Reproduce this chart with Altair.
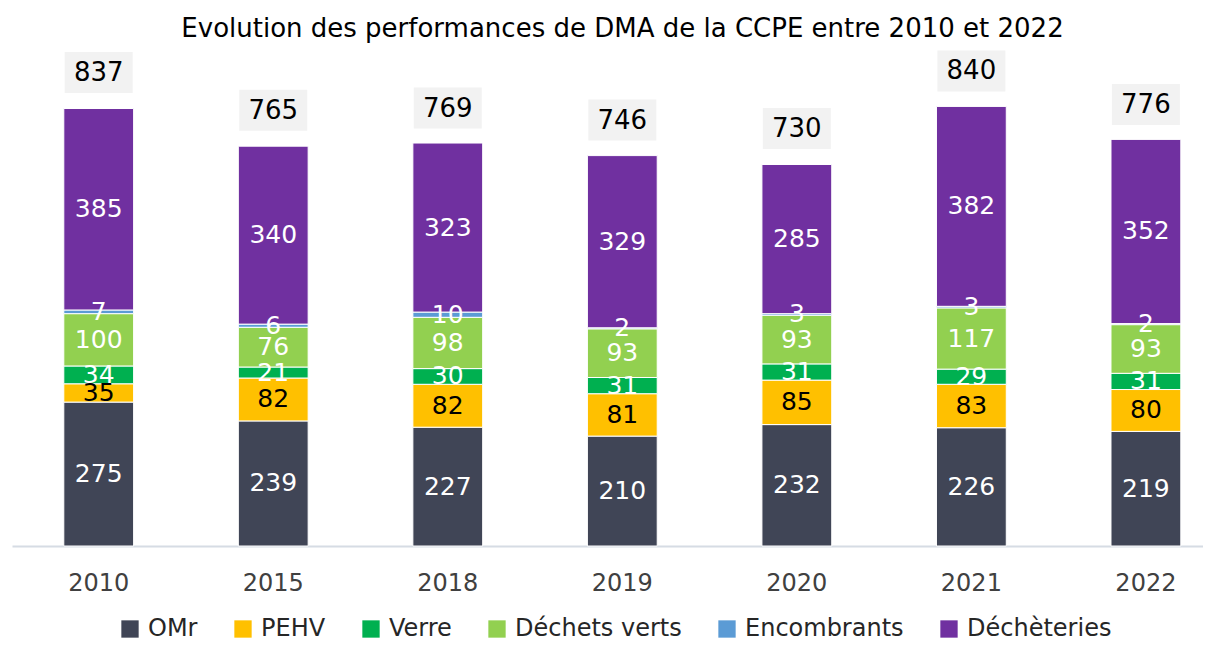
import altair as alt
import pandas as pd

years = ["2010", "2015", "2018", "2019", "2020", "2021", "2022"]
categories = ["OMr", "PEHV", "Verre", "Déchets verts", "Encombrants", "Déchèteries"]
omr = [275, 239, 227, 210, 232, 226, 219]
pehv = [35, 82, 82, 81, 85, 83, 80]
verre = [34, 21, 30, 31, 31, 29, 31]
dechets_verts = [100, 76, 98, 93, 93, 117, 93]
encombrants = [7, 6, 10, 2, 3, 3, 2]
decheteries = [385, 340, 323, 329, 285, 382, 352]
totals = [837, 765, 769, 746, 730, 840, 776]
colors = ["#404556", "#FFC000", "#00B050", "#92D050", "#5B9BD5", "#7030A0"]

series = [omr, pehv, verre, dechets_verts, encombrants, decheteries]
rows = []
for ci, (cat, vals) in enumerate(zip(categories, series)):
    for y, v in zip(years, vals):
        rows.append({"year": y, "cat": cat, "value": v, "idx": ci})
df = pd.DataFrame(rows)
tot = pd.DataFrame({"year": years, "total": totals})

FONT = "DejaVu Sans"
xscale = alt.Scale(domain=years, paddingInner=0.6, paddingOuter=0.212, align=0.7)
yscale = alt.Scale(domain=[0, 879], nice=False, zero=True)

x = alt.X("year:N", scale=xscale, sort=years,
          axis=alt.Axis(title=None, labelAngle=0, labelFontSize=24, labelColor="#404040",
                        ticks=False, domainColor="#D6DCE4", domainWidth=2, labelPadding=25,
                        labelFont=FONT))

bars = alt.Chart(df).mark_bar(stroke="white", strokeWidth=1).encode(
    x=x,
    y=alt.Y("value:Q", stack="zero", scale=yscale, axis=None),
    color=alt.Color("cat:N", scale=alt.Scale(domain=categories, range=colors),
                    legend=alt.Legend(title=None, orient="none", direction="horizontal",
                                      legendX=106, legendY=531,
                                      symbolType="square", symbolSize=300, symbolStrokeWidth=0,
                                      labelFontSize=24, labelColor="#262626", labelFont=FONT,
                                      labelOffset=6, columnPadding=33, labelLimit=400)),
    order=alt.Order("idx:Q"),
)

labels = alt.Chart(df).transform_stack(
    stack="value", groupby=["year"], as_=["v0", "v1"], sort=[alt.SortField("idx")]
).transform_calculate(
    mid="(datum.v0 + datum.v1) / 2"
).mark_text(fontSize=25, font=FONT, baseline="middle").encode(
    x=x,
    y=alt.Y("mid:Q", scale=yscale, axis=None),
    text="value:Q",
    color=alt.condition("datum.cat == 'PEHV'", alt.value("black"), alt.value("white")),
)

boxes = alt.Chart(tot).mark_bar(width=68, color="#F2F2F2", yOffset=-15, y2Offset=-56).encode(
    x=x,
    y=alt.Y("total:Q", scale=yscale, axis=None),
    y2="total:Q",
)

tot_text = alt.Chart(tot).mark_text(fontSize=26, font=FONT, color="black",
                                    baseline="middle", yOffset=-35).encode(
    x=x,
    y=alt.Y("total:Q", scale=yscale, axis=None),
    text="total:Q",
)

chart = alt.layer(bars, labels, boxes, tot_text).properties(
    width=1191, height=460,
    title=alt.Title("Evolution des performances de DMA de la CCPE entre 2010 et 2022",
                    fontSize=26, fontWeight="normal", font=FONT, color="black",
                    offset=8, dx=15),
    padding={"left": 4, "right": 0, "top": 78, "bottom": 96},
    autosize=alt.AutoSizeParams(type="none"),
).configure_view(stroke=None)

chart.save("out.html", embed_options={"renderer": "svg", "actions": False})
